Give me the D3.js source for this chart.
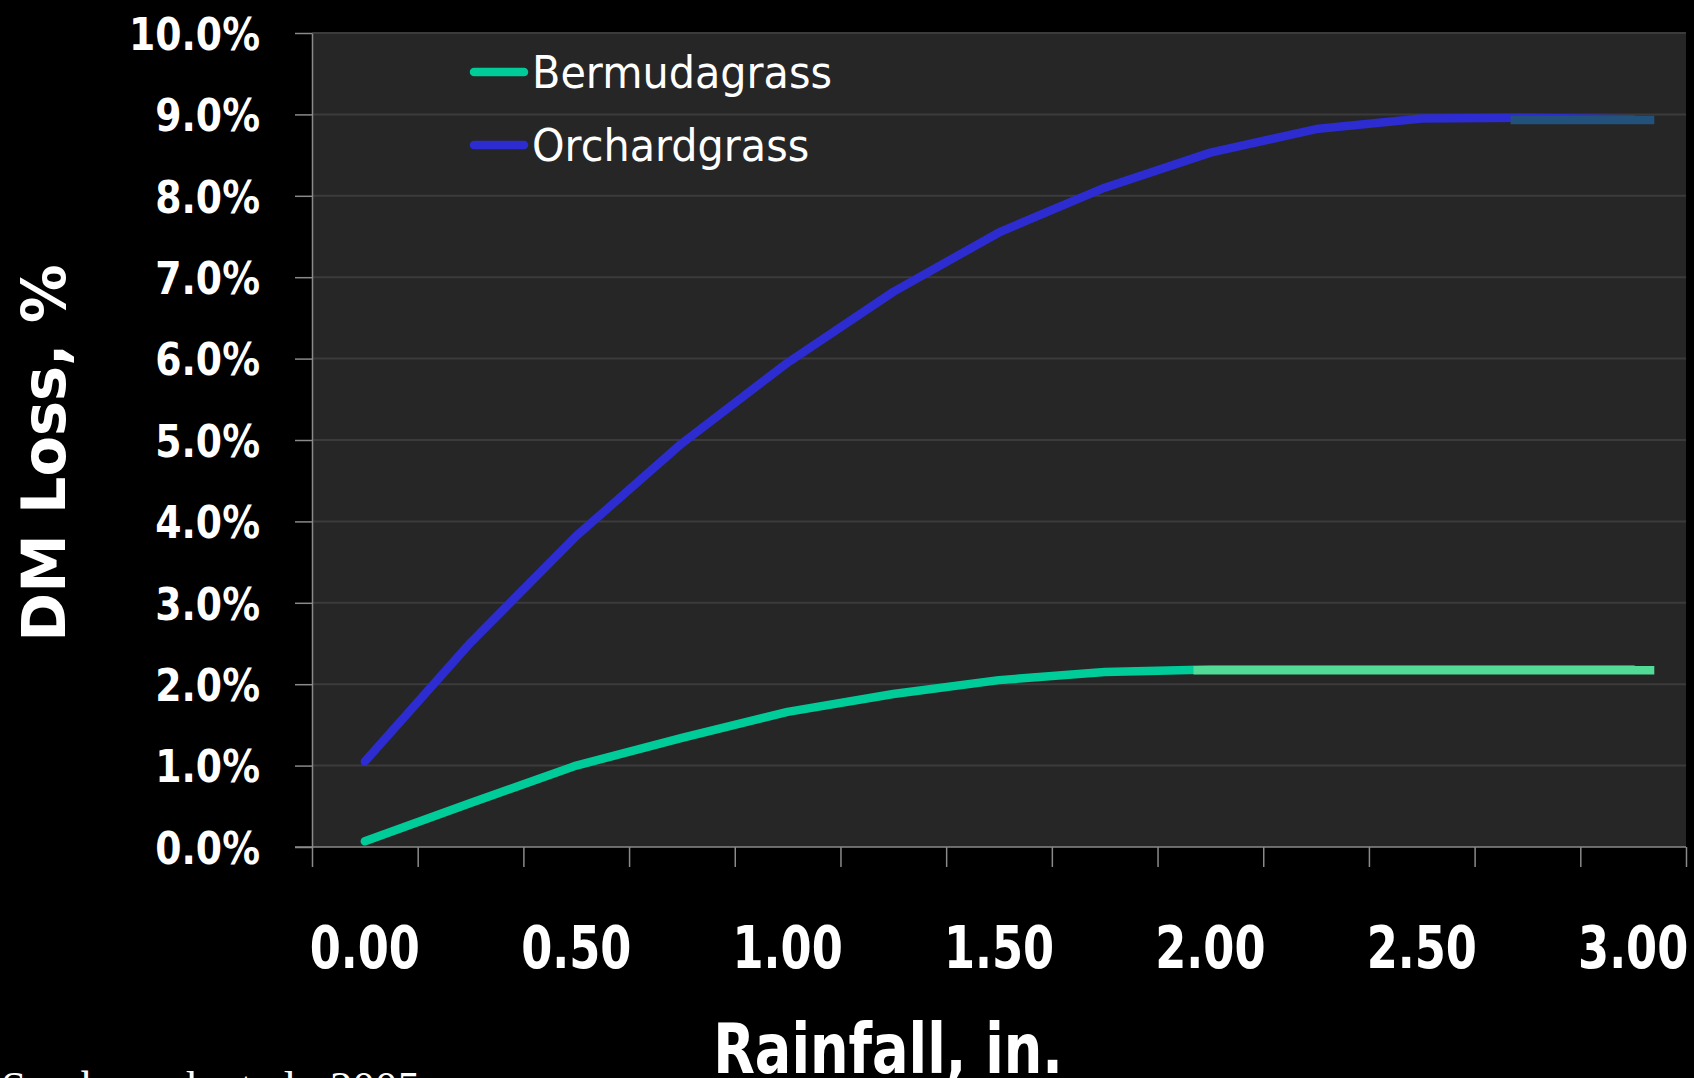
<!DOCTYPE html>
<html>
<head>
<meta charset="utf-8">
<script src="https://cdn.jsdelivr.net/npm/d3@7"></script>
<style>
  html, body { margin: 0; padding: 0; background: #000; overflow: hidden; }
  svg { display: block; }
</style>
</head>
<body>
<svg id="chart" width="1694" height="1078"></svg>
<script>
// Rainfall amounts (in.) and dry-matter loss (%) for each forage
const rainfall = [0, 0.25, 0.5, 0.75, 1.0, 1.25, 1.5, 1.75, 2.0, 2.25, 2.5, 2.75, 3.0];
const bermudagrass = [0.07, 0.54, 1.00, 1.34, 1.66, 1.88, 2.05, 2.15, 2.18, 2.18, 2.18, 2.18, 2.18];
const orchardgrass = [1.05, 2.51, 3.82, 4.96, 5.95, 6.82, 7.55, 8.10, 8.53, 8.82, 8.95, 8.96, 8.94];

// Flat plateau segments laid over the tail of each curve
const bermudaPlateauX = [1.96, 3.05];
const bermudaPlateauY = 2.17;
const orchardPlateauX = [2.71, 3.05];
const orchardPlateauY = 8.93;

const xTickLabels = ["0.00", "0.50", "1.00", "1.50", "2.00", "2.50", "3.00"];
const xTickValues = [0, 0.5, 1.0, 1.5, 2.0, 2.5, 3.0];
const xCategoryEdges = [-0.125, 0.125, 0.375, 0.625, 0.875, 1.125, 1.375, 1.625, 1.875, 2.125, 2.375, 2.625, 2.875, 3.125];
const yTickValues = [0, 1, 2, 3, 4, 5, 6, 7, 8, 9, 10];

const seriesNames = ["Bermudagrass", "Orchardgrass"];
const seriesColors = ["#00cc99", "#2c2cd0"];
const plateauColors = ["#52db96", "#22527b"];

const svg = d3.select("#chart");

const plotLeft = 312, plotRight = 1686, plotTop = 33, plotBottom = 847;
const x = d3.scaleLinear().domain([-0.125, 3.125]).range([plotLeft, plotRight]);
const y = d3.scaleLinear().domain([0, 10]).range([plotBottom, plotTop]);

// plot area
svg.append("rect")
  .attr("x", plotLeft).attr("y", plotTop)
  .attr("width", plotRight - plotLeft).attr("height", plotBottom - plotTop)
  .attr("fill", "#262626");

// horizontal gridlines
svg.append("g")
  .selectAll("line")
  .data(yTickValues.filter(v => v > 0))
  .join("line")
  .attr("x1", plotLeft).attr("x2", plotRight)
  .attr("y1", d => y(d)).attr("y2", d => y(d))
  .attr("stroke", "#3b3b3b")
  .attr("stroke-width", 2);

// y axis
const yAxis = svg.append("g")
  .attr("transform", `translate(${plotLeft},0)`)
  .call(d3.axisLeft(y).tickValues(yTickValues).tickSize(17).tickSizeOuter(0)
    .tickFormat(d => d3.format(".1f")(d) + "%"));
yAxis.select(".domain").attr("stroke", "#8a8a8a").attr("stroke-width", 1.5);
yAxis.selectAll(".tick line").attr("stroke", "#8a8a8a").attr("stroke-width", 1.5);
yAxis.selectAll(".tick text")
  .attr("x", null)
  .attr("dy", "0.36em")
  .attr("transform", "translate(-52,0) scale(0.84,1)")
  .attr("fill", "#ffffff")
  .attr("font-family", "'DejaVu Sans', Verdana, sans-serif")
  .attr("font-weight", "bold")
  .attr("font-size", 45)
  .attr("text-anchor", "end");

// x axis: category boundary ticks, labels at every other category
const xAxis = svg.append("g")
  .attr("transform", `translate(0,${plotBottom})`)
  .call(d3.axisBottom(x).tickValues(xCategoryEdges).tickSize(20).tickSizeOuter(0).tickFormat(""));
xAxis.select(".domain").attr("stroke", "#8a8a8a").attr("stroke-width", 1.5)
  .attr("d", `M${plotLeft - 17},0H${plotRight}`);
xAxis.selectAll(".tick line").attr("stroke", "#8a8a8a").attr("stroke-width", 1.5);

svg.append("g")
  .selectAll("text")
  .data(xTickValues)
  .join("text")
  .attr("transform", (d) => `translate(${x(d)},968) scale(0.77,1)`)
  .attr("text-anchor", "middle")
  .attr("fill", "#ffffff")
  .attr("font-family", "'DejaVu Sans', Verdana, sans-serif")
  .attr("font-weight", "bold")
  .attr("font-size", 58)
  .text((d, i) => xTickLabels[i]);

// lines
const line = d3.line().x(d => x(d[0])).y(d => y(d[1]));
const seriesValues = [bermudagrass, orchardgrass];
svg.append("g")
  .selectAll("path")
  .data(seriesValues)
  .join("path")
  .attr("d", vals => line(rainfall.map((r, i) => [r, vals[i]])))
  .attr("fill", "none")
  .attr("stroke", (d, i) => seriesColors[i])
  .attr("stroke-width", 8.5)
  .attr("stroke-linejoin", "round")
  .attr("stroke-linecap", "round");

// plateau overlays
const plateaus = [
  [[bermudaPlateauX[0], bermudaPlateauY], [bermudaPlateauX[1], bermudaPlateauY]],
  [[orchardPlateauX[0], orchardPlateauY], [orchardPlateauX[1], orchardPlateauY]]
];
svg.append("g")
  .selectAll("path")
  .data(plateaus)
  .join("path")
  .attr("d", line)
  .attr("fill", "none")
  .attr("stroke", (d, i) => plateauColors[i])
  .attr("stroke-width", 8.5)
  .attr("stroke-linecap", "butt");

// legend
const legend = svg.append("g");
const legendRows = [72, 145];
legend.selectAll("line")
  .data(seriesNames)
  .join("line")
  .attr("x1", 474).attr("x2", 524)
  .attr("y1", (d, i) => legendRows[i]).attr("y2", (d, i) => legendRows[i])
  .attr("stroke", (d, i) => seriesColors[i])
  .attr("stroke-width", 8.5)
  .attr("stroke-linecap", "round");
legend.selectAll("text")
  .data(seriesNames)
  .join("text")
  .attr("transform", (d, i) => `translate(532,${legendRows[i] + 16}) scale(0.92,1)`)
  .attr("fill", "#ffffff")
  .attr("font-family", "'DejaVu Sans', Verdana, sans-serif")
  .attr("font-size", 45)
  .text(d => d);

// axis titles
svg.append("text")
  .attr("transform", "translate(888,1073) scale(0.785,1)")
  .attr("text-anchor", "middle")
  .attr("fill", "#ffffff")
  .attr("font-family", "'DejaVu Sans', Verdana, sans-serif")
  .attr("font-weight", "bold")
  .attr("font-size", 69)
  .text("Rainfall, in.");

svg.append("text")
  .attr("transform", "translate(65,453) rotate(-90) scale(0.98,1)")
  .attr("text-anchor", "middle")
  .attr("fill", "#ffffff")
  .attr("font-family", "'DejaVu Sans', Verdana, sans-serif")
  .attr("font-weight", "bold")
  .attr("font-size", 60)
  .text("DM Loss, %");

// source note
svg.append("text")
  .attr("x", 420).attr("y", 1102)
  .attr("text-anchor", "end")
  .attr("fill", "#ffffff")
  .attr("font-family", "'Liberation Serif', 'Times New Roman', serif")
  .attr("font-size", 45)
  .text("Scarbrough et al., 2005");
</script>
</body>
</html>
